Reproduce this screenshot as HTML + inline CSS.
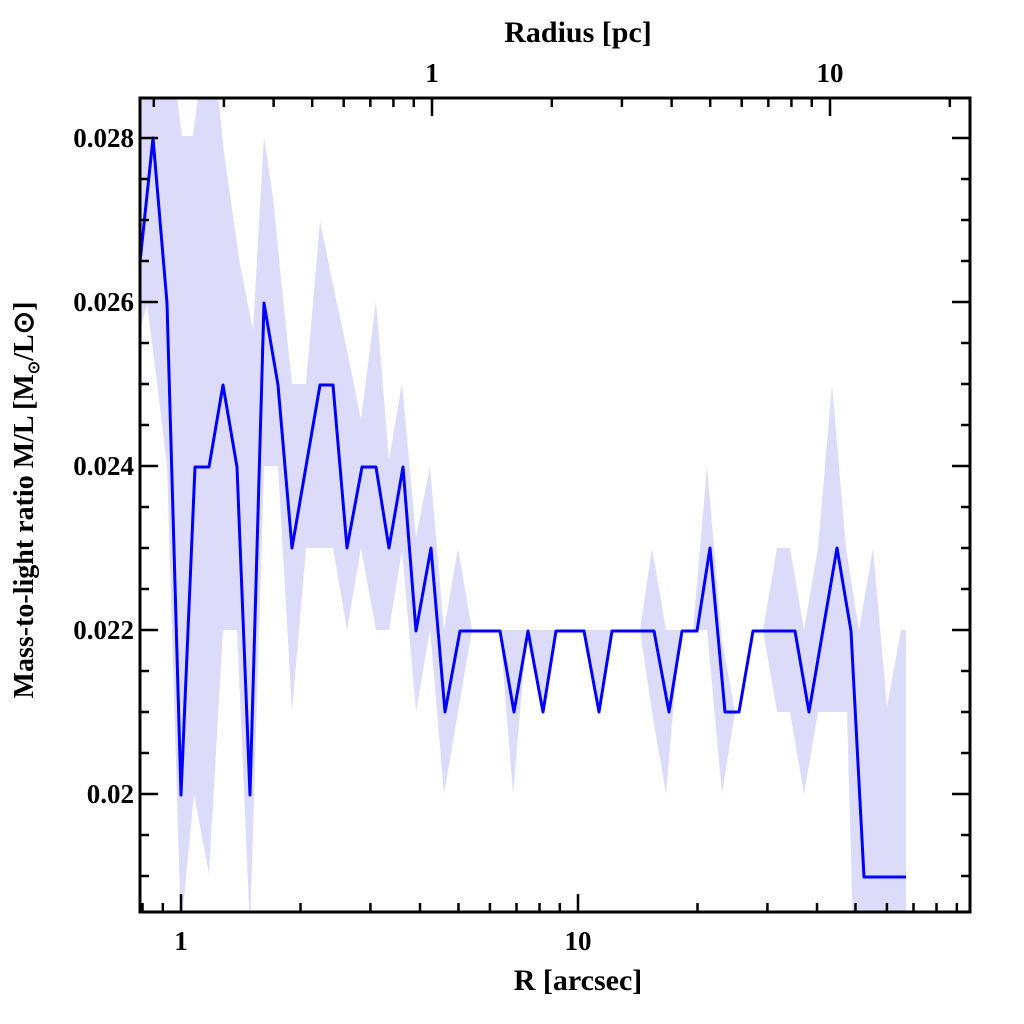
<!DOCTYPE html>
<html><head><meta charset="utf-8"><style>
html,body{margin:0;padding:0;background:#fff;width:1024px;height:1024px;overflow:hidden}
svg text{font-family:"Liberation Serif",serif;font-weight:bold;fill:#000}
</style></head><body>
<svg id="s" width="1024" height="1024" viewBox="0 0 1024 1024" xmlns="http://www.w3.org/2000/svg">
<defs><clipPath id="c"><rect x="140" y="98" width="830" height="814"/></clipPath></defs>
<g clip-path="url(#c)">
<polygon fill="#dcdcfa" points="140,80 175,80 182,136 193,136 200,80 217,80 223,145 240,265 253,330 264,136 273,198 283,298 292,384 306,384 320,221 333,285 347,350 361,420 376,301 389,460 402,383 416,537 430,467 444,630 458,548 472,630 640,630 652,548 666,630 693,630 707,466 722,640 735,712 748,630 763,630 777,548 790,548 804,630 818,548 832,384 846,548 859,630 873,548 887,707 901,630 906,630 906,930 853,930 847,712 818,712 804,794 790,712 777,712 763,630 748,630 735,712 722,794 707,630 680,630 666,794 652,712 640,630 612,630 599,712 584,630 556,630 543,712 527,630 513,794 500,630 472,630 458,712 444,794 430,630 416,712 402,550 389,630 376,630 361,548 347,630 333,548 320,548 306,548 292,712 278,466 264,466 250,930 237,630 223,630 209,874 194,794 181,930 167,466 153,350 147,305 140,330"/>
<polyline fill="none" stroke="#0000ff" stroke-width="3" stroke-linejoin="round" points="140,262 153,138 167,303 181,795 195,467 209,467 223,385 237,467 250,795 264,303 278,385 292,548 320,385 333,385 347,548 362,467 376,467 389,548 403,467 416,631 431,548 445,712 460,631 500,631 514,712 528,631 543,712 556,631 584,631 599,712 612,631 654,631 669,712 682,631 697,631 710,548 725,712 739,712 753,631 795,631 809,712 837,548 851,631 864,877 906,877"/>
</g>
<g id="ax" stroke="#000" stroke-width="2.5" fill="none"></g>
<rect x="140" y="98" width="830" height="814" fill="none" stroke="#000" stroke-width="3"/>
<g font-size="27">
<text x="134" y="147" text-anchor="end">0.028</text>
<text x="134" y="311" text-anchor="end">0.026</text>
<text x="134" y="475" text-anchor="end">0.024</text>
<text x="134" y="639" text-anchor="end">0.022</text>
<text x="134" y="803" text-anchor="end">0.02</text>
<text x="181" y="950" text-anchor="middle">1</text>
<text x="578" y="950" text-anchor="middle">10</text>
<text x="432" y="82" text-anchor="middle">1</text>
<text x="830" y="82" text-anchor="middle">10</text>
</g>
<text x="578" y="990" font-size="30" text-anchor="middle">R [arcsec]</text>
<text x="578" y="42" font-size="30" text-anchor="middle">Radius [pc]</text>
<text transform="translate(33,500) rotate(-90)" font-size="28" text-anchor="middle">Mass-to-light ratio M/L [M<tspan font-size="16" dy="6">⊙</tspan><tspan dy="-6">/L⊙]</tspan></text>
</svg>
<script>
var g=document.getElementById('ax'),d='';
function L(x1,y1,x2,y2){d+='M'+x1+' '+y1+'L'+x2+' '+y2;}
for(var i=0;i<=20;i++){var v=18.5+i*0.5;var y=794-(v-20)*82;if(y<100||y>910)continue;var maj=Math.abs(v-Math.round(v/2)*2)<1e-6;var len=maj?18:9;L(140,y,140+len,y);L(970,y,970-len,y);}
[0.8,0.9,1,2,3,4,5,6,7,8,9,10,20,30,40,50,60,70,80,90].forEach(function(v){var x=181+397*Math.log10(v);if(x<141||x>969)return;var maj=(v==1||v==10);L(x,912,x,912-(maj?18:9));});
[0.2,0.3,0.4,0.5,0.6,0.7,0.8,0.9,1,2,3,4,5,6,7,8,9,10,20].forEach(function(v){var x=432+398*Math.log10(v);if(x<141||x>969)return;var maj=(v==1||v==10);L(x,98,x,98+(maj?18:9));});
var p=document.createElementNS('http://www.w3.org/2000/svg','path');p.setAttribute('d',d);g.appendChild(p);
</script>
</body></html>
